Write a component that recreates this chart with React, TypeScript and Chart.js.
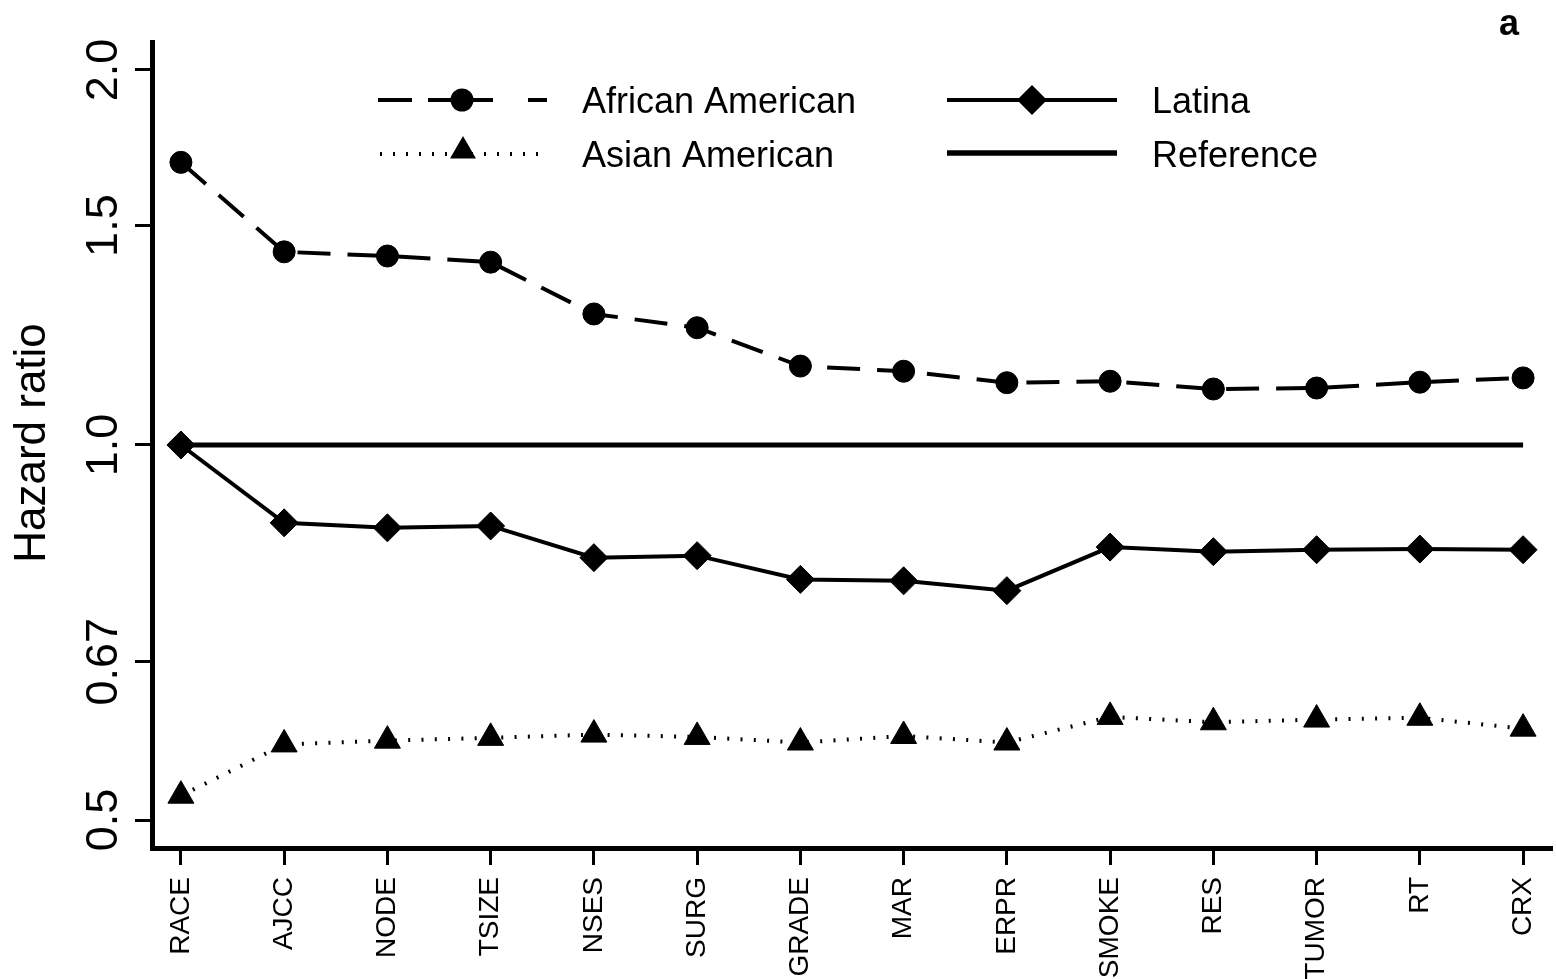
import React, { useEffect, useRef } from 'react';
import { Chart, registerables } from 'chart.js';

Chart.register(...registerables);

const FONT = '"Liberation Sans", Arial, Helvetica, sans-serif';

const categories = ['RACE', 'AJCC', 'NODE', 'TSIZE', 'NSES', 'SURG', 'GRADE', 'MAR', 'ERPR', 'SMOKE', 'RES', 'TUMOR', 'RT', 'CRX'];
const africanAmerican = [1.686, 1.429, 1.418, 1.402, 1.274, 1.242, 1.157, 1.146, 1.122, 1.125, 1.109, 1.111, 1.123, 1.132];
const latina = [1.0, 0.866, 0.858, 0.861, 0.812, 0.815, 0.780, 0.778, 0.764, 0.828, 0.821, 0.824, 0.825, 0.824];
const asianAmerican = [0.523, 0.575, 0.579, 0.582, 0.5855, 0.583, 0.577, 0.584, 0.577, 0.605, 0.599, 0.602, 0.604, 0.592];
const referenceLine = [1, 1, 1, 1, 1, 1, 1, 1, 1, 1, 1, 1, 1, 1];

const yTickValues = [0.5, 0.67, 1.0, 1.5, 2.0];
const yTickLabels = ['0.5', '0.67', '1.0', '1.5', '2.0'];
const yMin = 0.4748;
const yMax = 2.106;

const legendLabels = ['African American', 'Asian American', 'Latina', 'Reference'];
const yTitle = 'Hazard ratio';
const panelLabel = 'a';

function toPoints(values: number[]) {
  return values.map((v, i) => ({ x: i, y: v }));
}

function drawCircle(ctx: CanvasRenderingContext2D, x: number, y: number, r: number) {
  ctx.beginPath();
  ctx.arc(x, y, r, 0, Math.PI * 2);
  ctx.fill();
}
function drawDiamond(ctx: CanvasRenderingContext2D, x: number, y: number, r: number) {
  ctx.beginPath();
  ctx.moveTo(x - r, y);
  ctx.lineTo(x, y - r);
  ctx.lineTo(x + r, y);
  ctx.lineTo(x, y + r);
  ctx.closePath();
  ctx.fill();
}
function drawTriangle(ctx: CanvasRenderingContext2D, x: number, y: number, r: number) {
  ctx.beginPath();
  ctx.moveTo(x, y - r);
  ctx.lineTo(x + r * 0.866, y + r / 2);
  ctx.lineTo(x - r * 0.866, y + r / 2);
  ctx.closePath();
  ctx.fill();
}

const overlayPlugin = {
  id: 'overlay',
  afterDraw(chart: any) {
    const ctx: CanvasRenderingContext2D = chart.ctx;
    const yScale = chart.scales.y;
    const area = chart.chartArea;
    ctx.save();
    ctx.fillStyle = '#000';
    ctx.strokeStyle = '#000';

    // y tick labels (rotated)
    ctx.font = `45px ${FONT}`;
    ctx.textAlign = 'center';
    ctx.textBaseline = 'alphabetic';
    yTickValues.forEach((v, i) => {
      const py = yScale.getPixelForValue(v);
      ctx.save();
      ctx.translate(117, py);
      ctx.rotate(-Math.PI / 2);
      ctx.fillText(yTickLabels[i], 0, 0);
      ctx.restore();
    });

    // y title
    ctx.font = `44px ${FONT}`;
    ctx.save();
    ctx.translate(45, (area.top + area.bottom) / 2 - 2);
    ctx.rotate(-Math.PI / 2);
    ctx.fillText(yTitle, 0, 0);
    ctx.restore();

    // panel label
    ctx.font = `bold 36px ${FONT}`;
    ctx.fillText(panelLabel, 1509, 35);

    // legend
    const row1 = 100;
    const row2 = 154;
    ctx.lineCap = 'butt';
    // African American: dashed with circle
    ctx.lineWidth = 4;
    ctx.setLineDash([]);
    ctx.beginPath();
    ctx.moveTo(378, row1); ctx.lineTo(412, row1);
    ctx.moveTo(428, row1); ctx.lineTo(493, row1);
    ctx.moveTo(528, row1); ctx.lineTo(547, row1);
    ctx.stroke();
    drawCircle(ctx, 462, row1, 11.5);
    // Asian American: dotted with triangle
    ctx.setLineDash([2, 11]);
    ctx.beginPath();
    ctx.moveTo(380, row2); ctx.lineTo(546, row2);
    ctx.stroke();
    ctx.setLineDash([]);
    drawTriangle(ctx, 463, row2 - 3, 15);
    // Latina: solid with diamond
    ctx.lineWidth = 4;
    ctx.beginPath();
    ctx.moveTo(947, row1); ctx.lineTo(1117, row1);
    ctx.stroke();
    drawDiamond(ctx, 1032, row1, 15);
    // Reference: thick solid
    ctx.lineWidth = 5.5;
    ctx.beginPath();
    ctx.moveTo(947, row2 - 1); ctx.lineTo(1117, row2 - 1);
    ctx.stroke();

    ctx.font = `36px ${FONT}`;
    ctx.textAlign = 'left';
    ctx.textBaseline = 'alphabetic';
    ctx.fillText(legendLabels[0], 582, row1 + 13);
    ctx.fillText(legendLabels[1], 582, row2 + 13);
    ctx.fillText(legendLabels[2], 1152, row1 + 13);
    ctx.fillText(legendLabels[3], 1152, row2 + 13);

    ctx.restore();
  },
};

export default function App() {
  const canvasRef = useRef<HTMLCanvasElement | null>(null);

  useEffect(() => {
    const canvas = canvasRef.current;
    if (!canvas) return;
    const chart = new Chart(canvas, {
      type: 'line',
      data: {
        datasets: [
          {
            label: legendLabels[0],
            data: toPoints(africanAmerican),
            borderColor: '#000',
            backgroundColor: '#000',
            borderWidth: 4,
            borderDash: [33, 17],
            borderCapStyle: 'butt',
            pointStyle: 'circle',
            pointRadius: 11,
            pointBorderWidth: 1,
            pointBackgroundColor: '#000',
            pointBorderColor: '#000',
            tension: 0,
            order: 1,
          },
          {
            label: legendLabels[2],
            data: toPoints(latina),
            borderColor: '#000',
            backgroundColor: '#000',
            borderWidth: 4,
            pointStyle: 'rectRot',
            pointRadius: 14,
            pointBorderWidth: 1,
            pointBackgroundColor: '#000',
            pointBorderColor: '#000',
            tension: 0,
            order: 1,
          },
          {
            label: legendLabels[1],
            data: toPoints(asianAmerican),
            borderColor: '#000',
            backgroundColor: '#000',
            borderWidth: 4,
            borderDash: [2, 11.3],
            borderCapStyle: 'butt',
            pointStyle: 'triangle',
            pointRadius: 15,
            pointBorderWidth: 1,
            pointBackgroundColor: '#000',
            pointBorderColor: '#000',
            tension: 0,
            order: 1,
          },
          {
            label: legendLabels[3],
            data: toPoints(referenceLine),
            borderColor: '#000',
            borderWidth: 5,
            pointRadius: 0,
            tension: 0,
            order: 10,
          },
        ],
      },
      options: {
        responsive: false,
        animation: false,
        devicePixelRatio: 1,
        layout: { autoPadding: false, padding: { left: 0, top: 42, right: 4, bottom: 0 } },
        plugins: {
          legend: { display: false },
          tooltip: { enabled: false },
          title: { display: false },
        },
        scales: {
          x: {
            type: 'linear',
            min: -0.28,
            max: 13.28,
            afterBuildTicks: (scale: any) => {
              scale.ticks = categories.map((_, i) => ({ value: i }));
            },
            afterFit: (scale: any) => {
              scale.height = 131;
              scale.paddingLeft = 0;
              scale.paddingRight = 0;
            },
            ticks: {
              autoSkip: false,
              minRotation: 90,
              maxRotation: 90,
              padding: 12,
              color: '#000',
              font: { family: FONT, size: 28 },
              callback: (value: any) => categories[Math.round(Number(value))] ?? '',
            },
            grid: {
              drawOnChartArea: false,
              drawTicks: true,
              tickLength: 17,
              tickWidth: 3,
              tickColor: '#000',
            },
            border: { display: true, color: '#000', width: 5 },
          },
          y: {
            type: 'logarithmic',
            min: yMin,
            max: yMax,
            afterBuildTicks: (scale: any) => {
              scale.ticks = yTickValues.map((v) => ({ value: v }));
            },
            afterFit: (scale: any) => {
              scale.width = 152;
            },
            ticks: {
              color: 'rgba(0,0,0,0)',
              font: { family: FONT, size: 20 },
              callback: (value: any) => {
                const idx = yTickValues.indexOf(Number(value));
                return idx >= 0 ? yTickLabels[idx] : '';
              },
            },
            grid: {
              drawOnChartArea: false,
              drawTicks: true,
              tickLength: 17,
              tickWidth: 3,
              tickColor: '#000',
            },
            border: { display: true, color: '#000', width: 5 },
          },
        },
      },
      plugins: [overlayPlugin],
    } as any);
    return () => chart.destroy();
  }, []);

  return (
    <div style={{ position: 'fixed', left: 0, top: 0, width: 1556, height: 979, background: '#fff' }}>
      <canvas ref={canvasRef} width={1556} height={979} style={{ display: 'block' }} />
    </div>
  );
}
